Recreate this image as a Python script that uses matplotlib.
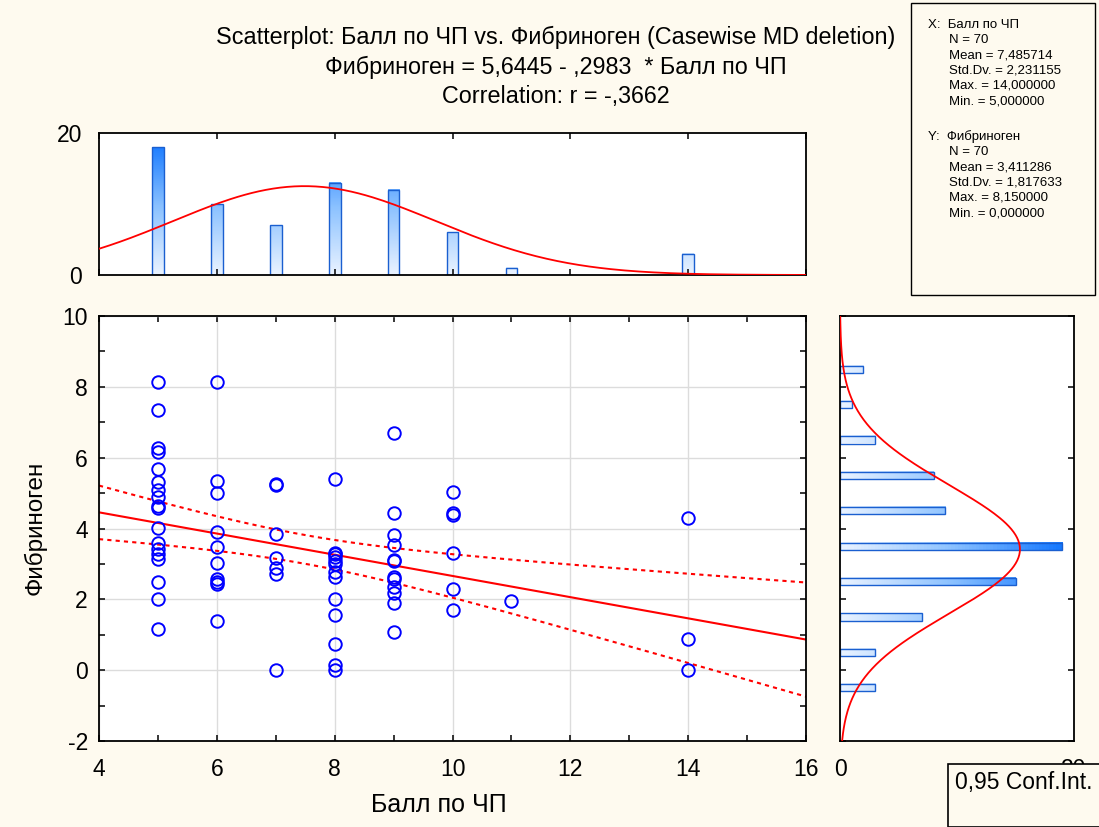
import numpy as np
import matplotlib
matplotlib.use('Agg')
import matplotlib.pyplot as plt
from matplotlib.colors import LinearSegmentedColormap
from matplotlib.patches import Rectangle

plt.rcParams['font.family'] = ['Liberation Sans', 'DejaVu Sans']
plt.rcParams['axes.unicode_minus'] = False

# значения Фибриногена по каждому баллу ЧП
fib_at_5 = [8.15, 7.35, 6.28, 6.16, 5.69, 5.30, 5.08, 4.89, 4.64, 4.59,
            4.02, 3.58, 3.42, 3.27, 3.13, 2.50, 2.02, 1.15]
fib_at_6 = [8.15, 5.34, 5.00, 3.90, 3.48, 3.02, 2.57, 2.50, 2.43, 1.40]
fib_at_7 = [5.25, 5.22, 3.84, 3.17, 2.89, 2.71, 0.00]
fib_at_8 = [5.39, 3.32, 3.27, 3.20, 3.08, 3.01, 2.78, 2.64, 2.01, 1.56,
            0.74, 0.15, 0.00]
fib_at_9 = [6.70, 4.44, 3.81, 3.53, 3.12, 3.08, 2.62, 2.57, 2.36, 2.17,
            1.90, 1.07]
fib_at_10 = [5.03, 4.44, 4.38, 3.31, 2.30, 1.70]
fib_at_11 = [1.94]
fib_at_14 = [4.30, 0.89, 0.00]

groups = {5: fib_at_5, 6: fib_at_6, 7: fib_at_7, 8: fib_at_8, 9: fib_at_9,
          10: fib_at_10, 11: fib_at_11, 14: fib_at_14}
ball = np.concatenate([[k] * len(v) for k, v in groups.items()]).astype(float)
fib = np.concatenate([v for v in groups.values()])

title_lines = ['Scatterplot: Балл по ЧП vs. Фибриноген (Casewise MD deletion)',
               'Фибриноген = 5,6445 - ,2983  * Балл по ЧП',
               'Correlation: r = -,3662']
stats_x = ['X:  Балл по ЧП', 'N = 70', 'Mean = 7,485714', 'Std.Dv. = 2,231155',
           'Max. = 14,000000', 'Min. = 5,000000']
stats_y = ['Y:  Фибриноген', 'N = 70', 'Mean = 3,411286', 'Std.Dv. = 1,817633',
           'Max. = 8,150000', 'Min. = 0,000000']
t_crit = 1.995

bg = '#fefaef'
W, H = 1099, 827
fig = plt.figure(figsize=(W / 100, H / 100), dpi=100, facecolor=bg)

def box(l, t, r, b):
    return [l / W, 1 - b / H, (r - l) / W, (b - t) / H]

ax = fig.add_axes(box(99, 316, 806, 741))
ax_top = fig.add_axes(box(99, 133, 806, 275))
ax_r = fig.add_axes(box(840, 316, 1074, 741))

cmap = LinearSegmentedColormap.from_list('bars', ['#eaf3ff', '#8cc2ff', '#1478ff'])
edge = '#1a5fd0'
bw = 0.2
fs_tick = 16.5

n = len(fib)
mx, sx = ball.mean(), ball.std(ddof=1)
my, sy = fib.mean(), fib.std(ddof=1)

def normal(v, m, s):
    return n * np.exp(-0.5 * ((v - m) / s) ** 2) / (s * np.sqrt(2 * np.pi))

# --- main scatter ---
ax.plot(ball, fib, 'o', mfc='none', mec='#0000ff', ms=9, mew=1.4, zorder=3)
slope, inter = np.polyfit(ball, fib, 1)
xs = np.linspace(4, 16, 200)
resid = fib - (inter + slope * ball)
se = np.sqrt((resid ** 2).sum() / (n - 2))
band = t_crit * se * np.sqrt(1 / n + (xs - mx) ** 2 / ((ball - mx) ** 2).sum())
fit = inter + slope * xs
ax.plot(xs, fit, color='red', lw=1.5, zorder=2)
ax.plot(xs, fit + band, color='red', lw=1.5, ls=(0, (2, 2)), zorder=2)
ax.plot(xs, fit - band, color='red', lw=1.5, ls=(0, (2, 2)), zorder=2)
ax.set_xlim(4, 16)
ax.set_ylim(-2, 10)
ax.set_xticks(range(4, 17, 2))
ax.set_xticks(range(5, 16, 2), minor=True)
ax.set_yticks(range(-2, 11, 2))
ax.set_yticks(range(-1, 10, 2), minor=True)
ax.grid(True, which='major', color='#dcdcdc', lw=1)
ax.set_axisbelow(True)
ax.tick_params(which='both', direction='in', top=True, right=True, length=4,
               width=1.1, labelsize=fs_tick)
ax.tick_params(axis='x', pad=12)
ax.tick_params(axis='y', pad=8)

# --- top histogram ---
vals, cnts = np.unique(ball, return_counts=True)
cmax = 19
for v, c in zip(vals, cnts):
    grad = np.linspace(0, c, 64)[:, None]
    ax_top.imshow(grad, extent=(v - bw / 2, v + bw / 2, 0, c), origin='lower',
                  cmap=cmap, vmin=0, vmax=cmax, aspect='auto', zorder=1)
    ax_top.add_patch(Rectangle((v - bw / 2, 0), bw, c, fill=False, ec=edge, lw=1, zorder=2))
ax_top.plot(xs, normal(xs, mx, sx), color='red', lw=1.3, zorder=3)
ax_top.set_xlim(4, 16)
ax_top.set_ylim(0, 20)
ax_top.set_xticks(range(4, 17, 2))
ax_top.set_yticks([0, 20])
ax_top.tick_params(axis='x', direction='in', top=True, length=4, width=1.1, labelbottom=False)
ax_top.tick_params(axis='y', length=0, labelsize=fs_tick, pad=12)

# --- right histogram (bins closed on the right) ---
idx = np.ceil(fib).astype(int) - 1
ybins = np.arange(-1, 9)
ycnts = np.array([(idx == k).sum() for k in ybins])
for k, c in zip(ybins, ycnts):
    if c == 0:
        continue
    yc = k + 0.5
    grad = np.linspace(0, c, 64)[None, :]
    ax_r.imshow(grad, extent=(0, c, yc - bw / 2, yc + bw / 2), origin='lower',
                cmap=cmap, vmin=0, vmax=cmax, aspect='auto', zorder=1)
    ax_r.add_patch(Rectangle((0, yc - bw / 2), c, bw, fill=False, ec=edge, lw=1, zorder=2))
ys = np.linspace(-2, 10, 300)
ax_r.plot(normal(ys, my, sy), ys, color='red', lw=1.3, zorder=3)
ax_r.set_xlim(0, 20)
ax_r.set_ylim(-2, 10)
ax_r.set_xticks([0, 20])
ax_r.set_yticks(range(-2, 11, 2))
ax_r.tick_params(axis='y', direction='in', left=True, right=True, length=4, width=1.1,
                 labelleft=False)
ax_r.tick_params(axis='x', length=0, labelsize=fs_tick, pad=12)

for a in (ax, ax_top, ax_r):
    a.set_facecolor('white')
    for s in a.spines.values():
        s.set_linewidth(1.3)

# --- texts ---
for i, line in enumerate(title_lines):
    fig.text(556 / W, 1 - (37 + 30 * i) / H, line, ha='center', va='center', fontsize=16.8)
fig.text(35 / W, 1 - 528 / H, 'Фибриноген', rotation=90, ha='center', va='center', fontsize=17.5)
fig.text(439 / W, 1 - 805 / H, 'Балл по ЧП', ha='center', va='center', fontsize=18)

fig.patches.append(Rectangle((911 / W, 1 - 295 / H), 184 / W, 292 / H, transform=fig.transFigure,
                             fc=bg, ec='black', lw=1))
for block, y0 in ((stats_x, 25), (stats_y, 137)):
    for i, line in enumerate(block):
        fig.text((928 if i == 0 else 949) / W, 1 - (y0 + 15.2 * i) / H, line,
                 ha='left', va='center', fontsize=9.5)

fig.patches.append(Rectangle((948 / W, 0), 160 / W, (827 - 764) / H, transform=fig.transFigure,
                             fc=bg, ec='black', lw=1.2, zorder=10))
fig.text(955 / W, 1 - 782 / H, '0,95 Conf.Int.', ha='left', va='center', fontsize=16.5, zorder=11)

fig.savefig('out.png', dpi=100, facecolor=bg)
